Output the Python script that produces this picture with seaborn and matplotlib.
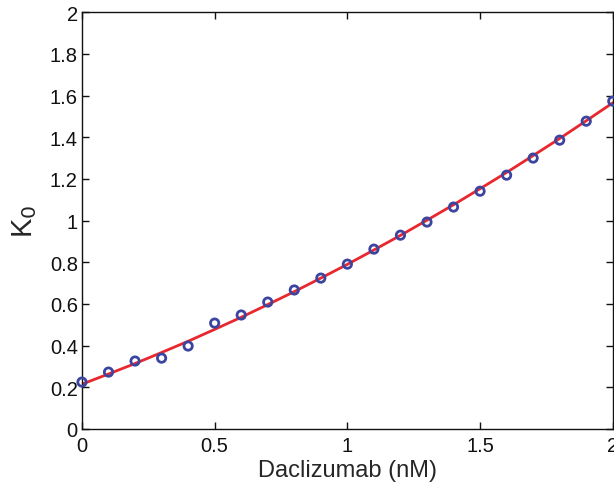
import numpy as np
import pandas as pd
import matplotlib
matplotlib.use("Agg")
import matplotlib.pyplot as plt
import seaborn as sns

# Data
dose = [0.0, 0.1, 0.2, 0.3, 0.4, 0.5, 0.6, 0.7, 0.8, 0.9, 1.0,
        1.1, 1.2, 1.3, 1.4, 1.5, 1.6, 1.7, 1.8, 1.9, 2.0]
k0_obs = [0.225, 0.273, 0.326, 0.340, 0.398, 0.508, 0.547, 0.609, 0.667, 0.724, 0.791,
          0.863, 0.930, 0.993, 1.065, 1.141, 1.218, 1.300, 1.386, 1.477, 1.573]
k0_fit = [0.215, 0.264, 0.314, 0.367, 0.421, 0.478, 0.536, 0.597, 0.659, 0.724, 0.790,
          0.859, 0.929, 1.002, 1.076, 1.153, 1.231, 1.312, 1.394, 1.479, 1.565]

xticks = [0, 0.5, 1, 1.5, 2]
xtick_labels = ["0", "0.5", "1", "1.5", "2"]
yticks = [0, 0.2, 0.4, 0.6, 0.8, 1.0, 1.2, 1.4, 1.6, 1.8, 2.0]
ytick_labels = ["0", "0.2", "0.4", "0.6", "0.8", "1", "1.2", "1.4", "1.6", "1.8", "2"]

sns.set_style("ticks")
plt.rcParams["font.family"] = ["Liberation Sans", "DejaVu Sans"]

df = pd.DataFrame({"dose": dose, "obs": k0_obs, "fit": k0_fit})

fig = plt.figure(figsize=(6.14, 4.89), dpi=100)
ax = fig.add_axes([0.1335, 0.1207, 0.8645, 0.8523])

sns.lineplot(data=df, x="dose", y="fit", ax=ax, color="#e8282e", linewidth=2.0, zorder=2)
sns.scatterplot(data=df, x="dose", y="obs", ax=ax, marker="o", s=36,
                facecolors="none", edgecolor="#3b45a0", linewidth=2.0, zorder=3, clip_on=False)

ax.set_xlim(0, 2)
ax.set_ylim(0, 2)
ax.set_xticks(xticks)
ax.set_xticklabels(xtick_labels)
ax.set_yticks(yticks)
ax.set_yticklabels(ytick_labels)
ax.tick_params(direction="in", length=5, width=1, labelsize=14.5, top=True, right=True,
               colors="#111111")
ax.tick_params(axis="x", pad=5)
ax.tick_params(axis="y", pad=3)
for lab in ax.get_xticklabels() + ax.get_yticklabels():
    lab.set_fontweight("medium")
for s in ax.spines.values():
    s.set_visible(True)
    s.set_linewidth(1.0)
    s.set_color("#111111")

ax.set_xlabel("Daclizumab (nM)", fontsize=17, labelpad=3)
ax.set_ylabel("K$_0$", fontsize=21, labelpad=8)

fig.savefig("out.png", dpi=100)
